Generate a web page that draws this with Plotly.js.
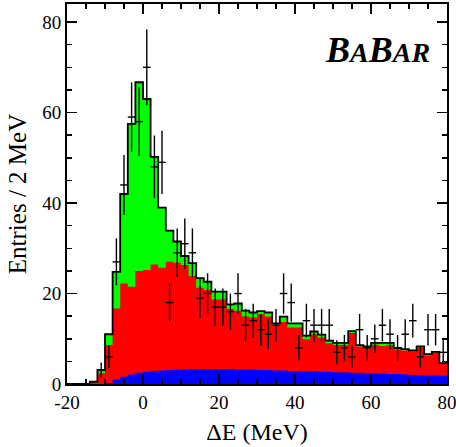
<!DOCTYPE html>
<html>
<head>
<meta charset="utf-8">
<script src="https://cdn.plot.ly/plotly-3.0.1.min.js"></script>
<style>html,body{margin:0;padding:0;background:#fff;}#plot{width:456px;height:447px;}</style>
</head>
<body>
<div id="plot"></div>
<script>
// bin centers (2 MeV bins from -20 to 80)
var binCenters = [-19,-17,-15,-13,-11,-9,-7,-5,-3,-1,1,3,5,7,9,11,13,15,17,19,21,23,25,27,29,31,33,35,37,39,41,43,45,47,49,51,53,55,57,59,61,63,65,67,69,71,73,75,77,79];
// stacked totals (top of green)
var totalFit = [0,0,0,0.5,3.1,11.0,24.8,42.0,57.5,66.7,63.0,50.2,39.0,33.9,31.5,28.3,26.7,23.4,22.6,20.4,20.4,17.6,17.8,16.2,15.8,16.1,15.8,13.4,14.9,13.4,13.4,10.7,11.6,10.9,9.6,9.1,9.1,11.7,8.6,8.3,9.1,9.1,9.1,7.9,7.7,7.4,8.3,6.6,7.1,4.6];
// top of red component (red + blue)
var redTop = [0,0,0,0.3,2.4,8.6,16.7,22.2,21.5,25.0,25.2,26.4,25.7,27.0,26.8,26.3,23.8,21.3,20.8,18.7,18.7,16.6,16.2,14.9,14.7,15.4,14.9,12.8,13.7,12.5,12.5,9.9,11.0,10.2,9.0,8.6,8.6,11.3,8.3,7.9,8.7,8.4,8.6,7.5,7.4,7.1,8.0,6.3,6.9,4.5];
// blue component
var blueBkg = [0,0,0,0,0,0.2,1.0,1.6,2.1,2.5,2.7,2.9,3.0,3.1,3.2,3.2,3.3,3.3,3.3,3.3,3.3,3.3,3.2,3.2,3.2,3.1,3.1,3.0,3.0,2.9,2.9,2.8,2.8,2.7,2.7,2.6,2.6,2.5,2.5,2.4,2.3,2.3,2.2,2.2,2.1,2.0,2.0,1.9,1.9,1.8];
// data points
var dataX = [-11,-9,-7,-5,-3,-1,1,3,5,7,9,11,13,15,17,19,21,23,25,27,29,31,33,35,37,39,41,43,45,47,49,51,53,55,57,59,61,63,65,67,69,71,73,75,77,79];
var dataY = [3,6,27,44,59,58,70,48,49,18,29,31,29,19,20,17,17,16,20,13,14,12,11,13,20,18,8,14,13,13,13,7,8,6,12,8,10,13,11,8,11,14,6,12,12,7];
var xTickVals = [-20,0,20,40,60,80];
var xTickText = ['-20','0','20','40','60','80'];

var binW = 2;
function stepX(c){ var e = c.map(function(v){return v - binW/2;}); e.push(c[c.length-1] + binW/2); return e; }
function stepY(v){ var o = v.slice(); o.push(v[v.length-1]); return o; }
var ex = stepX(binCenters);

var traces = [
  {x: ex, y: stepY(totalFit), type:'scatter', mode:'lines', line:{shape:'hv', width:0, color:'#00ff00'}, fill:'tozeroy', fillcolor:'#00ff00', hoverinfo:'skip'},
  {x: ex, y: stepY(redTop), type:'scatter', mode:'lines', line:{shape:'hv', width:0, color:'#ff0000'}, fill:'tozeroy', fillcolor:'#ff0000', hoverinfo:'skip'},
  {x: ex, y: stepY(blueBkg), type:'scatter', mode:'lines', line:{shape:'hv', width:0, color:'#0000ff'}, fill:'tozeroy', fillcolor:'#0000ff', hoverinfo:'skip'},
  {x: ex, y: stepY(totalFit), type:'scatter', mode:'lines', line:{shape:'hv', width:1.8, color:'#000000'}, hoverinfo:'skip'},
  {x: dataX, y: dataY, type:'scatter', mode:'markers', marker:{size:2, color:'#000', opacity:0},
   error_y:{type:'array', array: dataY.map(function(v){return Math.sqrt(v);}), width:0, thickness:1.4, color:'#000'},
   error_x:{type:'constant', value: binW/2, width:0, thickness:1.4, color:'#000'}}
];

var fontFam = 'Liberation Serif, Times New Roman, serif';
var layout = {
  width:456, height:447,
  margin:{l:67, r:9, t:4, b:63},
  paper_bgcolor:'#fff', plot_bgcolor:'#fff',
  showlegend:false,
  font:{family:fontFam, color:'#000', size:19},
  xaxis:{range:[-20,80], tickmode:'array', tickvals:xTickVals, ticktext:xTickText,
    ticks:'inside', ticklen:10, tickwidth:1.5, tickcolor:'#000', ticklabeloverflow:'allow',
    minor:{tickmode:'linear', tick0:0, dtick:5, ticks:'inside', ticklen:5, tickwidth:1.5, tickcolor:'#000', showgrid:false},
    showline:true, linecolor:'#000', linewidth:2, mirror:'ticks', showgrid:false, zeroline:false,
    tickfont:{family:fontFam, size:19, color:'#000'},
    title:{text:'ΔE (MeV)', font:{family:fontFam, size:24, color:'#000'}, standoff:11}},
  yaxis:{range:[0,84], tickmode:'linear', tick0:0, dtick:20,
    ticks:'inside', ticklen:10, tickwidth:1.5, tickcolor:'#000', ticklabeloverflow:'allow',
    minor:{tickmode:'linear', tick0:0, dtick:5, ticks:'inside', ticklen:5, tickwidth:1.5, tickcolor:'#000', showgrid:false},
    showline:true, linecolor:'#000', linewidth:2, mirror:'ticks', showgrid:false, zeroline:false,
    tickfont:{family:fontFam, size:19, color:'#000'},
    title:{text:'Entries / 2 MeV', font:{family:fontFam, size:25, color:'#000'}, standoff:8}},
  annotations:[{xref:'paper', yref:'paper', x:0.816, y:0.88, xanchor:'center', yanchor:'middle', showarrow:false,
    text:'<b><i>B<span style="font-size:28px">A</span>B<span style="font-size:28px">AR</span></i></b>',
    font:{family:fontFam, size:36, color:'#000'}}]
};
Plotly.newPlot('plot', traces, layout, {displayModeBar:false, staticPlot:true});
</script>
</body>
</html>
